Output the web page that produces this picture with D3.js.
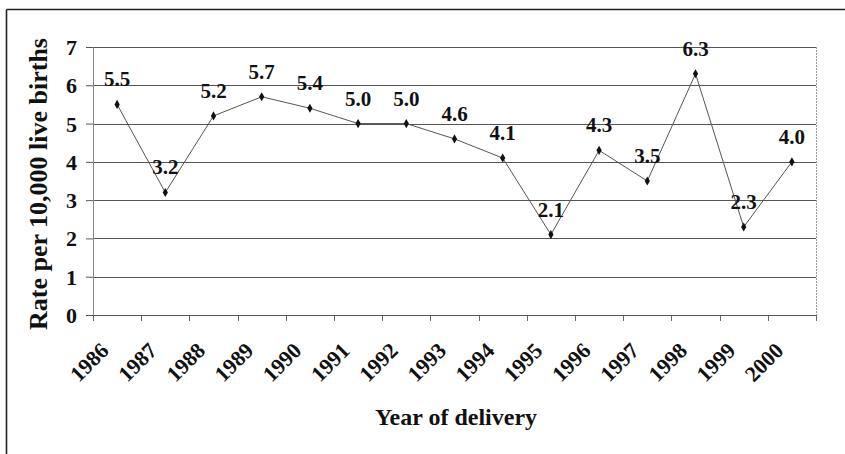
<!DOCTYPE html>
<html>
<head>
  <meta charset="utf-8">
  <script src="https://d3js.org/d3.v7.min.js"></script>
  <style>
    html, body { margin:0; padding:0; background:#fff; overflow:hidden }
    svg { display:block }
  </style>
</head>
<body>
<div id="chart"></div>
<script>
  // data
  var years = ["1986","1987","1988","1989","1990","1991","1992","1993","1994","1995","1996","1997","1998","1999","2000"];
  var rates = [5.5, 3.2, 5.2, 5.7, 5.4, 5.0, 5.0, 4.6, 4.1, 2.1, 4.3, 3.5, 6.3, 2.3, 4.0];
  var yTicks = [0, 1, 2, 3, 4, 5, 6, 7];

  var FONT = "'Liberation Serif'";
  var W = 845, H = 454;
  var margin = {left: 93, top: 47, right: 29, bottom: 139};
  var plotW = W - margin.left - margin.right,
      plotH = H - margin.top - margin.bottom;

  var svg = d3.select("#chart").append("svg")
    .attr("width", W)
    .attr("height", H);

  function serif(sel, size) {
    sel.style("font-family", FONT).attr("font-weight", "bold")
      .attr("font-size", size).attr("fill", "#111");
    return sel;
  }

  // outer frame (only top and left show)
  svg.append("line").attr("x1", 6.5).attr("x2", W).attr("y1", 9.5).attr("y2", 9.5)
    .attr("stroke", "#222").attr("stroke-width", 1.6);
  svg.append("line").attr("x1", 6.5).attr("x2", 6.5).attr("y1", 9.5).attr("y2", H)
    .attr("stroke", "#222").attr("stroke-width", 1.6);

  var g = svg.append("g").attr("transform", "translate(" + margin.left + "," + margin.top + ")");

  var x = d3.scaleBand().domain(years).range([0, plotW]);
  var y = d3.scaleLinear().domain([0, 7]).range([plotH, 0]);

  // gridlines
  g.selectAll("line.grid").data(yTicks.slice(1)).enter().append("line")
    .attr("class", "grid")
    .attr("x1", 0).attr("x2", plotW)
    .attr("y1", function(d) { return Math.round(y(d)) + 0.5; })
    .attr("y2", function(d) { return Math.round(y(d)) + 0.5; })
    .attr("stroke", "#555").attr("stroke-width", 1);

  // plot right border
  g.append("line").attr("x1", plotW + 0.5).attr("x2", plotW + 0.5).attr("y1", 0).attr("y2", plotH)
    .attr("stroke", "#999").attr("stroke-width", 1).attr("stroke-dasharray", "2,1");

  // y axis
  var yAxis = g.append("g")
    .call(d3.axisLeft(y).tickValues(yTicks).tickSize(7).tickPadding(9).tickFormat(d3.format("d")));
  yAxis.attr("font-family", null).attr("font-size", null);
  yAxis.select(".domain").attr("stroke", "#888");
  yAxis.selectAll(".tick line").attr("stroke", "#555");
  serif(yAxis.selectAll("text"), 22).attr("dy", "0.34em");

  // x axis
  var xTickPos = years.map(function(d) { return x(d); }).concat([plotW]);
  var xAxisG = g.append("g").attr("transform", "translate(0," + plotH + ")");
  xAxisG.append("line").attr("x1", 0).attr("x2", plotW).attr("y1", 0.5).attr("y2", 0.5)
    .attr("stroke", "#555");
  xAxisG.selectAll("line.xt").data(xTickPos).enter().append("line")
    .attr("x1", function(d) { return Math.round(d) + 0.5; })
    .attr("x2", function(d) { return Math.round(d) + 0.5; })
    .attr("y1", 0).attr("y2", 6)
    .attr("stroke", "#666");
  serif(xAxisG.selectAll("text.xl").data(years).enter().append("text"), 22)
    .attr("class", "xl")
    .attr("text-anchor", "end")
    .attr("transform", function(d) {
      return "translate(" + (x(d) + x.bandwidth() / 2 - 7) + ",37) rotate(-45)";
    })
    .text(function(d) { return d; });

  // axis titles
  serif(svg.append("text"), 26)
    .attr("text-anchor", "middle")
    .attr("transform", "translate(47,184) rotate(-90)")
    .text("Rate per 10,000 live births");
  serif(svg.append("text"), 24)
    .attr("text-anchor", "middle")
    .attr("x", 456).attr("y", 425)
    .text("Year of delivery");

  // line + markers
  var line = d3.line()
    .x(function(d, i) { return x(years[i]) + x.bandwidth() / 2; })
    .y(function(d) { return y(d); });
  g.append("path").datum(rates)
    .attr("d", line)
    .attr("fill", "none")
    .attr("stroke", "#555")
    .attr("stroke-width", 1);

  g.selectAll("path.mk").data(rates).enter().append("path")
    .attr("class", "mk")
    .attr("d", d3.symbol().type(d3.symbolDiamond).size(24))
    .attr("transform", function(d, i) {
      return "translate(" + (x(years[i]) + x.bandwidth() / 2) + "," + y(d) + ")";
    })
    .attr("fill", "#111");

  // data labels
  serif(g.selectAll("text.lbl").data(rates).enter().append("text"), 21)
    .attr("class", "lbl")
    .attr("text-anchor", "middle")
    .attr("x", function(d, i) { return x(years[i]) + x.bandwidth() / 2; })
    .attr("y", function(d) { return y(d) - 18; })
    .text(function(d) { return d.toFixed(1); });
</script>
</body>
</html>
